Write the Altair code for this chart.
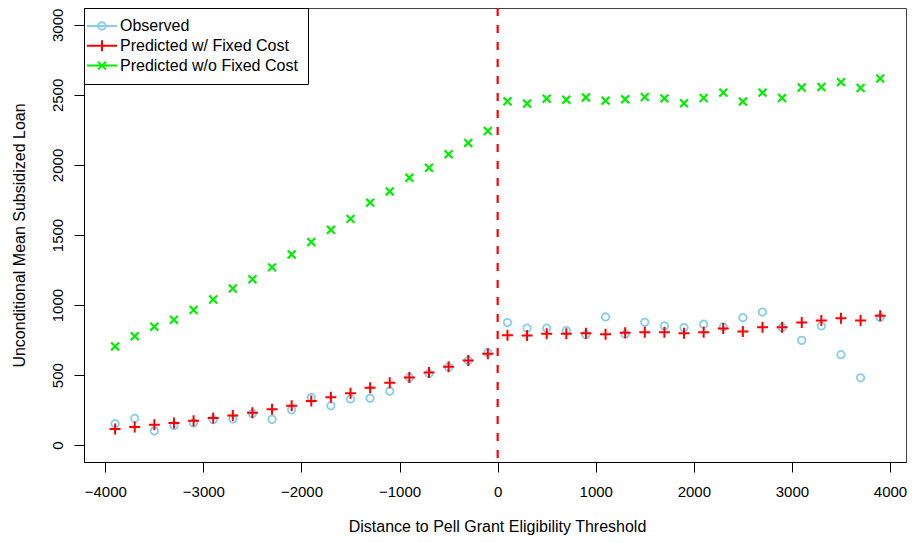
import altair as alt
import pandas as pd

# ---------------- data ----------------
distance = [-3900, -3700, -3500, -3300, -3100, -2900, -2700, -2500, -2300, -2100,
            -1900, -1700, -1500, -1300, -1100, -900, -700, -500, -300, -100,
            100, 300, 500, 700, 900, 1100, 1300, 1500, 1700, 1900,
            2100, 2300, 2500, 2700, 2900, 3100, 3300, 3500, 3700, 3900]

observed = [153, 191, 102, 139, 158, 182, 187, 226, 184, 252,
            340, 281, 330, 335, 385, 483, 512, 557, 604, 660,
            875, 835, 835, 818, 788, 915, 792, 877, 851, 839,
            863, 844, 910, 950, 839, 748, 851, 646, 481, 912]

pred_fixed = [116, 130, 146, 158, 175, 194, 212, 231, 257, 281,
              316, 342, 370, 410, 446, 483, 519, 559, 604, 653,
              785, 783, 795, 795, 799, 792, 802, 806, 806, 799,
              806, 832, 811, 842, 842, 875, 889, 905, 889, 924]

pred_nofixed = [705, 778, 846, 895, 965, 1040, 1118, 1184, 1269, 1361,
                1450, 1537, 1615, 1731, 1811, 1908, 1980, 2077, 2157, 2242,
                2454, 2438, 2473, 2466, 2482, 2459, 2468, 2485, 2475, 2440,
                2478, 2516, 2452, 2516, 2478, 2553, 2556, 2591, 2549, 2617]

series_names = ["Observed", "Predicted w/ Fixed Cost", "Predicted w/o Fixed Cost"]
threshold = [0]
x_ticks = [-4000, -3000, -2000, -1000, 0, 1000, 2000, 3000, 4000]
y_ticks = [0, 500, 1000, 1500, 2000, 2500, 3000]

# ---------------- build table ----------------
rows = []
for name, vals in zip(series_names, [observed, pred_fixed, pred_nofixed]):
    for d, v in zip(distance, vals):
        rows.append({"distance": d, "value": v, "series": name, "series_leg": name})
df = pd.DataFrame(rows)

colors = ["#87CEEB", "#FF0000", "#00EE00"]
FONT = "Liberation Sans"
FS = 16
FS_TICK = 15

circle_path = "M0.68,0A0.68,0.68 0 1,1 -0.68,0A0.68,0.68 0 1,1 0.68,0Z"
plus_path = "M-1,0H1M0,-1V1"
x_path = "M-0.72,-0.72L0.72,0.72M0.72,-0.72L-0.72,0.72"

leg_circle = "M-3,0H3M0.75,0A0.75,0.75 0 1,1 -0.75,0A0.75,0.75 0 1,1 0.75,0"
leg_plus = "M-3,0H3M0,-1.1V1.1"
leg_x = "M-3,0H3M-0.8,-0.8L0.8,0.8M0.8,-0.8L-0.8,0.8"

x_scale = alt.Scale(domain=[-4217, 4163], nice=False, zero=False)
y_scale = alt.Scale(domain=[-120, 3120], nice=False, zero=False)

x_axis = alt.Axis(values=x_ticks, format="d", grid=False, tickSize=10,
                  labelPadding=12, labelFontSize=FS_TICK, labelFont=FONT,
                  title="Distance to Pell Grant Eligibility Threshold",
                  titleFontSize=FS, titleFont=FONT, titleFontWeight="normal",
                  titleBaseline="alphabetic", titleY=69.5, titleX=413, titleAnchor="middle",
                  labelFlush=False)
y_axis = alt.Axis(values=y_ticks, format="d", grid=False, tickSize=10,
                  labelPadding=9, labelFontSize=FS_TICK, labelFont=FONT,
                  labelAngle=270, labelAlign="center", labelBaseline="bottom",
                  title="Unconditional Mean Subsidized Loan",
                  titleFontSize=FS, titleFont=FONT, titleFontWeight="normal",
                  titleBaseline="alphabetic", titleX=-60, labelFlush=False)

base = alt.Chart(df)

points = base.mark_point(filled=False, size=121, opacity=1).encode(
    x=alt.X("distance:Q", scale=x_scale, axis=x_axis),
    y=alt.Y("value:Q", scale=y_scale, axis=y_axis),
    color=alt.Color("series:N", scale=alt.Scale(domain=series_names, range=colors), legend=None),
    shape=alt.Shape("series:N", scale=alt.Scale(domain=series_names,
                                                range=[circle_path, plus_path, x_path]), legend=None),
    strokeWidth=alt.StrokeWidth("series:N", scale=alt.Scale(domain=series_names, range=[1.8, 2.2, 2.2]),
                                legend=None),
)

leg = alt.Legend(title=None, orient="top-left", offset=0, padding=10,
                 strokeColor="black", fillColor="white",
                 symbolSize=100, symbolStrokeWidth=2, symbolOpacity=1,
                 labelFontSize=FS, labelFont=FONT, labelColor="black", labelLimit=400,
                 rowPadding=1.8, labelOffset=10, cornerRadius=0)

legend_layer = base.mark_point(filled=False, size=100, opacity=0).encode(
    x=alt.X("distance:Q", scale=x_scale),
    y=alt.Y("value:Q", scale=y_scale),
    color=alt.Color("series_leg:N", scale=alt.Scale(domain=series_names, range=colors), legend=leg),
    shape=alt.Shape("series_leg:N", scale=alt.Scale(domain=series_names,
                                                    range=[leg_circle, leg_plus, leg_x]), legend=leg),
)

vline = alt.Chart(pd.DataFrame({"distance": threshold})).mark_rule(
    color="#FF0000", strokeWidth=2.2, strokeDash=[8, 9]
).encode(x=alt.X("distance:Q", scale=x_scale))

chart = alt.layer(points, vline, legend_layer).resolve_scale(
    color="independent", shape="independent"
).properties(
    width=822, height=454,
    autosize=alt.AutoSizeParams(type="none"),
    padding={"left": 76, "top": 0, "right": 1, "bottom": 73},
).configure_view(
    stroke="#444444", strokeWidth=1
).configure_axis(
    domainColor="black", tickColor="black", labelColor="black", titleColor="black",
    domainWidth=1, tickWidth=1
)

chart.save("out.html", embed_options={"renderer": "svg", "actions": False})
